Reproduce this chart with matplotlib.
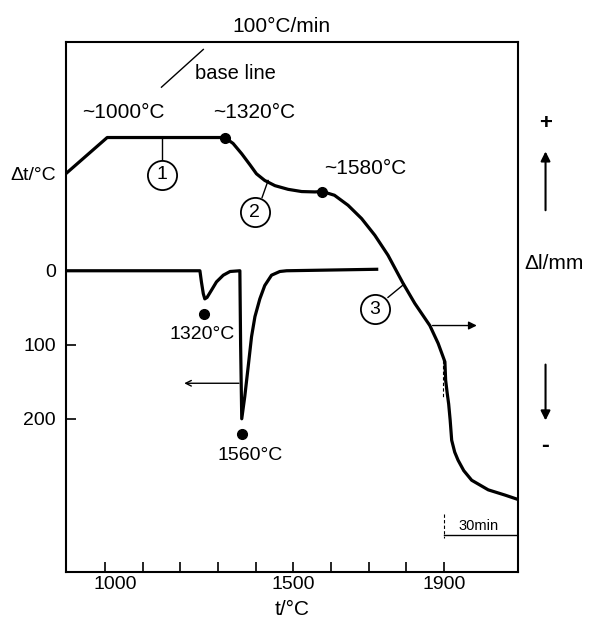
import numpy as np
import matplotlib
matplotlib.use('Agg')
import matplotlib.pyplot as plt
from matplotlib.transforms import ScaledTranslation

plt.rcParams['font.family'] = ['Liberation Sans', 'DejaVu Sans']

# dilatometric curve (upper, relative level in plot units)
temp_dil = [896, 1006, 1318, 1340, 1363, 1385, 1402, 1424, 1451, 1486,
            1522, 1557, 1577, 1609, 1645, 1681, 1716, 1751, 1791, 1822,
            1862, 1884, 1897, 1902, 1904, 1908, 1912, 1916, 1920, 1928,
            1937, 1952, 1973, 2017, 2061, 2096]
level_dil = [-131, -180, -180, -172, -158, -143, -131, -122, -115, -110,
             -107, -106.5, -107, -102, -88.5, -70.5, -48, -21, 17, 44,
             74, 98, 116, 123, 148, 165, 180, 202, 229, 245,
             256, 270, 283, 296, 303, 309]

# DTA curve (lower)
temp_dta = [896, 1252, 1256, 1261, 1265, 1271, 1283, 1296, 1314, 1332, 1358,
            1360, 1363, 1371, 1380, 1389, 1398, 1411, 1424, 1442, 1464, 1482,
            1721]
dta = [0, 0, 15, 31, 38, 36, 26, 15, 6, 1, 0,
       100, 200, 170, 130, 89, 62, 38, 20, 6, 1, 0,
       -2]

# marked points
dil_pts_t = [1318, 1577]
dil_pts_v = [-180, -107]
dta_pts_t = [1263, 1363]
dta_pts_v = [59, 220]

xticks = list(range(1000, 2000, 100))
xticklabels = ['1000', '', '', '', '', '1500', '', '', '', '1900']
yticks = [0, 100, 200]

fig = plt.figure(figsize=(5.9, 6.2), dpi=100)
ax = fig.add_axes([0.1114, 0.0774, 0.7666, 0.8548])
ax.set_xlim(896, 2096)
ax.set_ylim(407, -309)

for sp in ax.spines.values():
    sp.set_linewidth(1.5)

ax.set_xticks(xticks)
ax.set_xticklabels(xticklabels)
ax.set_yticks(yticks)
ax.tick_params(direction='in', length=7.5, width=1.2, labelsize=14, top=False, right=False)
ax.tick_params(axis='x', pad=3)
ax.tick_params(axis='y', pad=7)
lab = ax.get_xticklabels()[0]
lab.set_transform(lab.get_transform() + ScaledTranslation(0.1, 0, fig.dpi_scale_trans))

# curves
ax.plot(temp_dil, level_dil, color='black', lw=2.3, solid_joinstyle='round')
ax.plot(temp_dta, dta, color='black', lw=2.3, solid_joinstyle='round')
ax.plot(dil_pts_t, dil_pts_v, 'o', color='black', ms=7)
ax.plot(dta_pts_t, dta_pts_v, 'o', color='black', ms=7)

# texts on curves
ax.text(1049, -214, '~1000°C', ha='center', va='center', fontsize=15)
ax.text(1395, -214, '~1320°C', ha='center', va='center', fontsize=15)
ax.text(1692, -138, '~1580°C', ha='center', va='center', fontsize=15)
ax.text(1258, 86, '1320°C', ha='center', va='center', fontsize=14)
ax.text(1385, 249, '1560°C', ha='center', va='center', fontsize=14)
ax.text(1347, -266, 'base line', ha='center', va='center', fontsize=14.5)
ax.plot([1150, 1261], [-248, -299], color='black', lw=1)

# circled numbers with leaders
circles = [(1152, -130, '1'), (1397, -79, '2'), (1716, 52, '3')]
leaders = [([1152, 1152], [-180, -150]), ([1417, 1433], [-99, -122]),
           ([1751, 1794], [36, 18])]
for (lx, ly) in leaders:
    ax.plot(lx, ly, color='black', lw=1)
for cx, cy, s in circles:
    ax.plot(cx, cy, 'o', ms=21, mfc='white', mec='black', mew=1.3)
    ax.text(cx, cy, s, ha='center', va='center', fontsize=14)

# direction arrows
ax.annotate('', xy=(1203, 152), xytext=(1363, 152),
            arrowprops=dict(arrowstyle='->', lw=1, color='black'))
ax.annotate('', xy=(1994, 74), xytext=(1862, 74),
            arrowprops=dict(arrowstyle='-|>', lw=1, color='black', mutation_scale=12))

# dashed marks and 30 min bar
ax.plot([1898, 1898], [121, 171], color='black', lw=0.8, ls=(0, (3, 2)))
ax.plot([1900, 1900], [329, 361], color='black', lw=0.8, ls=(0, (3, 2)))
ax.plot([1900, 2096], [357, 357], color='black', lw=1)
ax.text(1990, 345, '30min', ha='center', va='center', fontsize=10.5)

# outside texts
ax.text(1468, -330, '100°C/min', ha='center', va='center', fontsize=15, clip_on=False)
ax.text(809, -129, 'Δt/°C', ha='center', va='center', fontsize=14, clip_on=False)
ax.text(2191, -10, 'Δl/mm', ha='center', va='center', fontsize=15, clip_on=False)
ax.text(2169, -199, '+', ha='center', va='center', fontsize=16, fontweight='bold', clip_on=False)
ax.text(2169, 236, '-', ha='center', va='center', fontsize=17, fontweight='bold', clip_on=False)
ax.annotate('', xy=(2169, -165), xytext=(2169, -78), annotation_clip=False,
            arrowprops=dict(arrowstyle='-|>', lw=1.5, color='black', mutation_scale=14))
ax.annotate('', xy=(2169, 206), xytext=(2169, 123), annotation_clip=False,
            arrowprops=dict(arrowstyle='-|>', lw=1.5, color='black', mutation_scale=14))

ax.set_xlabel('t/°C', fontsize=15, labelpad=5)

fig.savefig('out.png', dpi=100)
